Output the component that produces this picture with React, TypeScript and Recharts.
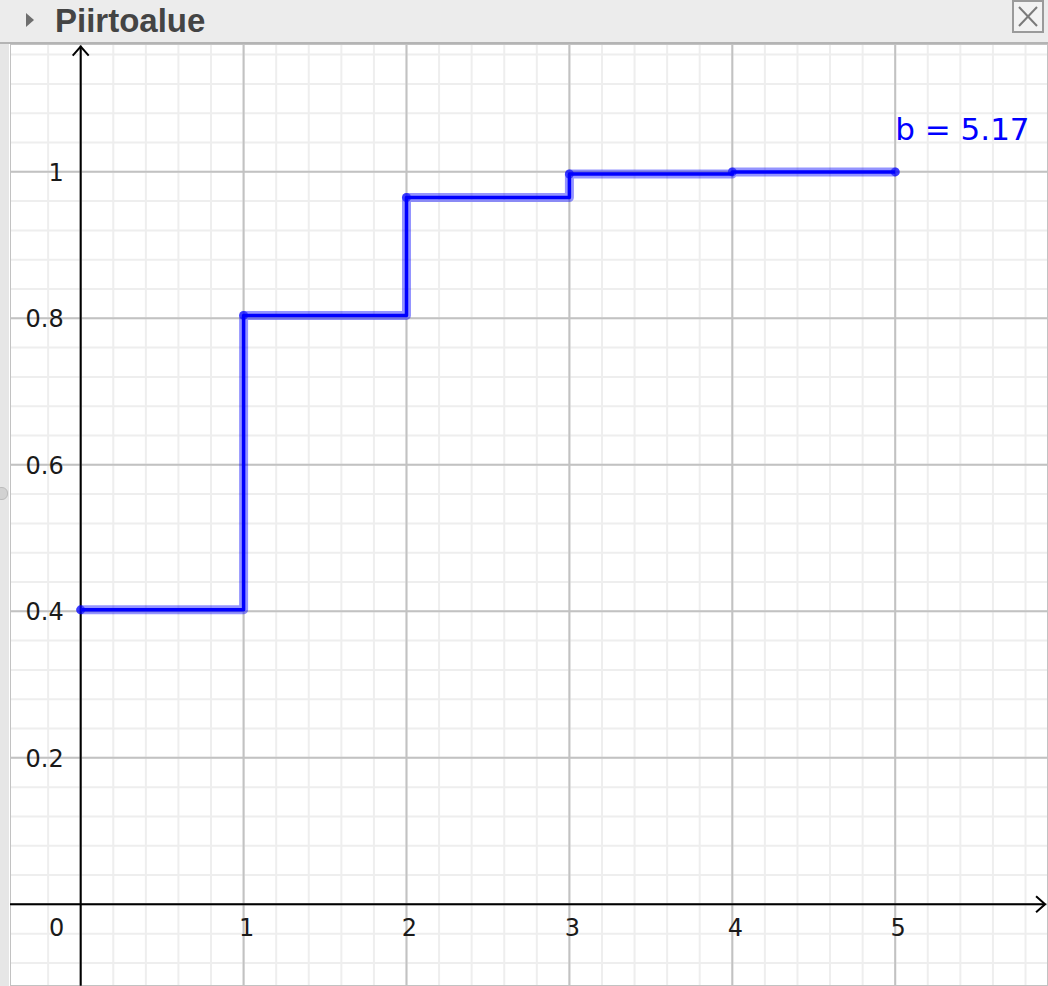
import React from 'react';
import { LineChart, Line, XAxis, YAxis, CartesianGrid, ReferenceLine, ReferenceDot } from 'recharts';

// step function values
const xValues = [0, 1, 2, 3, 4, 5];
const cdfValues = [0.402, 0.804, 0.965, 0.997, 0.9999, 0.9999];
const xTickLabels = [1, 2, 3, 4, 5];
const yTickLabels = [0.2, 0.4, 0.6, 0.8, 1];
const sliderLabel = 'b = 5.17';
const title = 'Piirtoalue';

const X_DOMAIN: [number, number] = [-0.434, 5.938];
const Y_DOMAIN: [number, number] = [-0.1115, 1.1745];

const steps = (from: number, to: number, step: number) => {
    const out: number[] = [];
    for (let v = from; v <= to + 1e-9; v += step) out.push(Math.round(v * 1000) / 1000);
    return out;
};
const minorX = steps(-0.4, 5.8, 0.2);
const minorY = steps(-0.08, 1.16, 0.04);
const majorX = [0, ...xTickLabels];
const majorY = [0, ...yTickLabels];

const data = xValues.map((x, i) => ({ x, p: cdfValues[i] }));

const FONT = '"DejaVu Sans", sans-serif';

// axis line with an open arrow head at the far end
const ArrowAxis = (props: any) => {
    const { x1, y1, x2, y2 } = props;
    const len = Math.hypot(x2 - x1, y2 - y1) || 1;
    const ux = (x2 - x1) / len;
    const uy = (y2 - y1) / len;
    const back = 9;
    const side = 8;
    const ax = x2 - ux * back;
    const ay = y2 - uy * back;
    return (
        <g>
            <line x1={x1} y1={y1} x2={x2} y2={y2} stroke="#000" strokeWidth={2} />
            <polyline
                points={`${ax - uy * side},${ay + ux * side} ${x2},${y2} ${ax + uy * side},${ay - ux * side}`}
                fill="none"
                stroke="#000"
                strokeWidth={2}
            />
        </g>
    );
};

const textAt = (text: string, dx: number, dy: number, anchor: string, color = '#1a1a1a', size = 24) =>
    (props: any) => {
        const vb = props.viewBox || {};
        return (
            <text x={vb.x + dx} y={vb.y + dy} textAnchor={anchor} fill={color} fontSize={size} fontFamily={FONT}>
                {text}
            </text>
        );
    };

const GeoGraph: React.FC = () => {
    return (
        <LineChart width={1038} height={942} data={data} margin={{ top: 0, right: 0, bottom: 0, left: 0 }}>
            <XAxis xAxisId="minor" type="number" dataKey="x" domain={X_DOMAIN} ticks={minorX} allowDataOverflow hide />
            <YAxis yAxisId="minor" type="number" domain={Y_DOMAIN} ticks={minorY} allowDataOverflow hide />
            <XAxis xAxisId="major" type="number" dataKey="x" domain={X_DOMAIN} ticks={majorX} allowDataOverflow hide />
            <YAxis yAxisId="major" type="number" domain={Y_DOMAIN} ticks={majorY} allowDataOverflow hide />
            <XAxis xAxisId="main" type="number" dataKey="x" domain={X_DOMAIN} ticks={majorX} allowDataOverflow hide />
            <YAxis yAxisId="main" type="number" domain={Y_DOMAIN} ticks={majorY} allowDataOverflow hide />
            <CartesianGrid xAxisId="minor" yAxisId="minor" stroke="#eeeeee" strokeWidth={2} fill="#fff" />
            <CartesianGrid xAxisId="major" yAxisId="major" stroke="#c2c2c2" strokeWidth={2} fill="none" />

            <ReferenceLine
                xAxisId="main" yAxisId="main"
                segment={[{ x: 0, y: -0.111 }, { x: 0, y: 1.171 }]}
                shape={ArrowAxis}
                ifOverflow="visible"
            />
            <ReferenceLine
                xAxisId="main" yAxisId="main"
                segment={[{ x: -0.434, y: 0 }, { x: 5.92, y: 0 }]}
                shape={ArrowAxis}
                ifOverflow="visible"
            />

            <Line
                xAxisId="main" yAxisId="main"
                type="stepAfter" dataKey="p"
                stroke="#0000ff" strokeOpacity={0.42} strokeWidth={9}
                strokeLinejoin="round" strokeLinecap="round"
                dot={{ r: 4.5, fill: '#0000ff', fillOpacity: 0.6, stroke: 'none' }}
                activeDot={false}
                isAnimationActive={false}
            />
            <Line
                xAxisId="main" yAxisId="main"
                type="stepAfter" dataKey="p"
                stroke="#0000ff" strokeWidth={3.5}
                strokeLinejoin="round"
                dot={false} activeDot={false}
                isAnimationActive={false}
            />

            <ReferenceDot xAxisId="main" yAxisId="main" x={0} y={0} r={0} ifOverflow="visible"
                label={textAt('0', -24, 32, 'middle')} />
            {xTickLabels.map((v) => (
                <ReferenceDot key={`xl${v}`} xAxisId="main" yAxisId="main" x={v} y={0} r={0} ifOverflow="visible"
                    label={textAt(String(v), 3, 32, 'middle')} />
            ))}
            {yTickLabels.map((v) => (
                <ReferenceDot key={`yl${v}`} xAxisId="main" yAxisId="main" x={0} y={v} r={0} ifOverflow="visible"
                    label={textAt(String(v), -17, 9, 'end')} />
            ))}
            <ReferenceDot xAxisId="main" yAxisId="main" x={xValues[5]} y={cdfValues[5]} r={0} ifOverflow="visible"
                label={textAt(sliderLabel, 0, -32, 'start', '#0000ff', 31)} />
        </LineChart>
    );
};

export default function App() {
    return (
        <div style={{ position: 'absolute', left: 0, top: 0, width: 1048, height: 986, background: '#fff', overflow: 'hidden' }}>
            {/* title bar */}
            <div style={{ position: 'absolute', left: 0, top: 0, width: 1048, height: 42, background: '#ececec', borderBottom: '2px solid #b4b4b4' }}>
                <svg width={12} height={18} style={{ position: 'absolute', left: 25, top: 12 }}>
                    <polygon points="1,1 9,8 1,15" fill="#6e6e6e" />
                </svg>
                <span style={{ position: 'absolute', left: 55, top: 2, fontFamily: '"Liberation Sans", Arial, sans-serif', fontWeight: 'bold', fontSize: 33, color: '#444', lineHeight: '38px' }}>
                    {title}
                </span>
                <div style={{ position: 'absolute', left: 1012, top: 0, width: 28, height: 29, border: '2px solid #9a9a9a', background: '#f2f2f2' }}>
                    <svg width={28} height={29}>
                        <line x1={5} y1={5} x2={23} y2={24} stroke="#7a7a7a" strokeWidth={2} />
                        <line x1={23} y1={5} x2={5} y2={24} stroke="#7a7a7a" strokeWidth={2} />
                    </svg>
                </div>
            </div>
            {/* left side strip */}
            <div style={{ position: 'absolute', left: 0, top: 44, width: 9, height: 942, background: '#e6e6e6' }} />
            <div style={{ position: 'absolute', left: -5, top: 487, width: 11, height: 11, borderRadius: 6, background: '#d2d2d2', border: '1px solid #bbb' }} />
            <div style={{ position: 'absolute', left: 10, top: 44 }}>
                <GeoGraph />
            </div>
        </div>
    );
}
